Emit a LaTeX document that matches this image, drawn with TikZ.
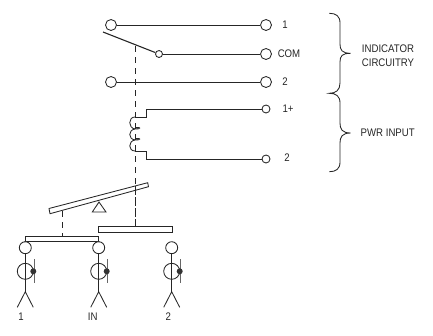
\documentclass[tikz,border=0pt]{standalone}
\usepackage{fontspec}
\setmainfont{Liberation Sans}
\begin{document}
\begin{tikzpicture}[x=1pt,y=-1pt,
  ln/.style={line width=0.85pt,draw=black!85},
  term/.style={circle,draw=black!85,line width=0.85pt,fill=white,inner sep=0pt,minimum size=11pt},
  smallterm/.style={term,minimum size=8pt},
  tinyterm/.style={term,minimum size=7pt},
  bigc/.style={term,minimum size=16pt,fill=none},
  headc/.style={term,minimum size=12pt},
  blackdot/.style={circle,fill=black!80,inner sep=0pt,minimum size=6pt},
  lab/.style={font=\fontsize{11}{13}\selectfont,text=black!85,inner sep=0pt,xscale=0.875,align=center},
  dashline/.style={ln,dash pattern=on 6pt off 5pt}]
\useasboundingbox (0,0) rectangle (433,335);
% dashed link (behind)
\coordinate (dtop) at (135,46);
\coordinate (dbot) at (135,226.5);
\draw[dashline] (dtop) -- (dbot);
% contacts
\node[term] (a1) at (111,25) {};
\node[term] (b1) at (266,25) {};
\node[tinyterm] (c0) at (159,54) {};
\node[term] (b2) at (266,54) {};
\node[term] (a3) at (111,82) {};
\node[term] (b3) at (266,82) {};
\node[smallterm] (b4) at (266,109) {};
\node[smallterm] (b5) at (266,159) {};
\coordinate (sw) at (103,32);
\draw[ln] (a1) -- (b1);
\draw[line width=1.1pt,draw=black!85] (sw) -- (c0);
\draw[ln] (c0) -- (b2);
\draw[ln] (a3) -- (b3);
\node[lab] (l1) at (285,25) {1};
\node[lab] (l2) at (289,54) {COM};
\node[lab] (l3) at (285,82) {2};
\node[lab] (l4) at (288,109) {1+};
\node[lab] (l5) at (287,158) {2};
% coil
\coordinate (ct) at (135,117);
\coordinate (cb) at (135,151);
\draw[ln] (b4) -- (146,109) -- (146,117) -- (ct);
\draw[ln] (b5) -- (146,159) -- (146,151) -- (cb);
\draw[ln] (ct) .. controls (128,117) and (128,128) .. (135,129)
  .. controls (138,129.5) and (141,128) .. (139,127.5) .. controls (136,127) and (135,128) .. (135,129)
  .. controls (128,130) and (128,139) .. (135,140)
  .. controls (138,140.5) and (141,139) .. (139,138.5) .. controls (136,138) and (135,139) .. (135,140)
  .. controls (128,141) and (128,151) .. (cb);
% lever
\draw[ln,fill=white] (49,208.5) -- (147.7,182.7) -- (148.5,186.7) -- (50,213.7) -- cycle;
\coordinate (dm) at (135,186);
\draw[dashline] (dm) -- (dbot);
\draw[ln] (99,202) -- (92.3,212) -- (106,212) -- cycle;
% bars
\node[draw=black!85,line width=0.85pt,fill=white,inner sep=0pt,minimum width=73.7pt,minimum height=5.5pt] (rb) at (135.2,229.5) {};
\node[draw=black!85,line width=0.85pt,fill=white,inner sep=0pt,minimum width=73.4pt,minimum height=5.5pt] (lb) at (62,239) {};
\coordinate (lv) at (62,211);
\draw[dashline] (lv) -- (lb.north);
% poles
\foreach \n/\x in {p/25.3,q/98.7,r/171.7}{
  \node[headc] (\n h) at (\x,247.7) {};
  \node[bigc] (\n c) at (\x,271.3) {};
  \coordinate (\n s) at (\x,291.7);
  \coordinate (\n l) at (\x-8,307.3);
  \coordinate (\n r) at (\x+8,307.3);
  \coordinate (\n t) at (\x+9,259.3);
  \coordinate (\n u) at (\x+9,283.3);
  \draw[ln] (\n h) -- (\n s);
  \draw[ln] (\n l) -- (\n s) -- (\n r);
  \draw[ln,draw=black!60] (\n t) -- (\n u);
  \node[blackdot] (\n d) at (\x+8,271.3) {};
}
\draw[ln] (lb.south west) -- (ph.north);
\draw[ln] (lb.south east) -- (qh.north);
\node[lab] (t1) at (21,317) {1};
\node[lab] (t2) at (92.7,317) {IN};
\node[lab] (t3) at (168.3,317) {2};
% braces
\coordinate (bb1) at (329.3,13.3);
\coordinate (bb2) at (350.7,53.3);
\coordinate (bb3) at (329.3,93.3);
\coordinate (bb4) at (350.7,133);
\coordinate (bb5) at (329.3,171.7);
\draw[ln] (bb1) .. controls (336,13.3) and (340,16) .. (340,23) -- (340,44)
  .. controls (340,50) and (342,53.3) .. (bb2)
  .. controls (342,53.3) and (340,56) .. (340,62) -- (340,83)
  .. controls (340,90) and (336,93.3) .. (bb3)
  .. controls (336,93.3) and (340,96) .. (340,103) -- (340,123)
  .. controls (340,129) and (342,133) .. (bb4)
  .. controls (342,133) and (340,137) .. (340,143) -- (340,162)
  .. controls (340,169) and (336,171.7) .. (bb5);
\node[lab] (t4) at (388,49) {INDICATOR};
\node[lab] (t5) at (388,63) {CIRCUITRY};
\node[lab] (t6) at (387.7,132.7) {PWR INPUT};
\end{tikzpicture}
\end{document}
